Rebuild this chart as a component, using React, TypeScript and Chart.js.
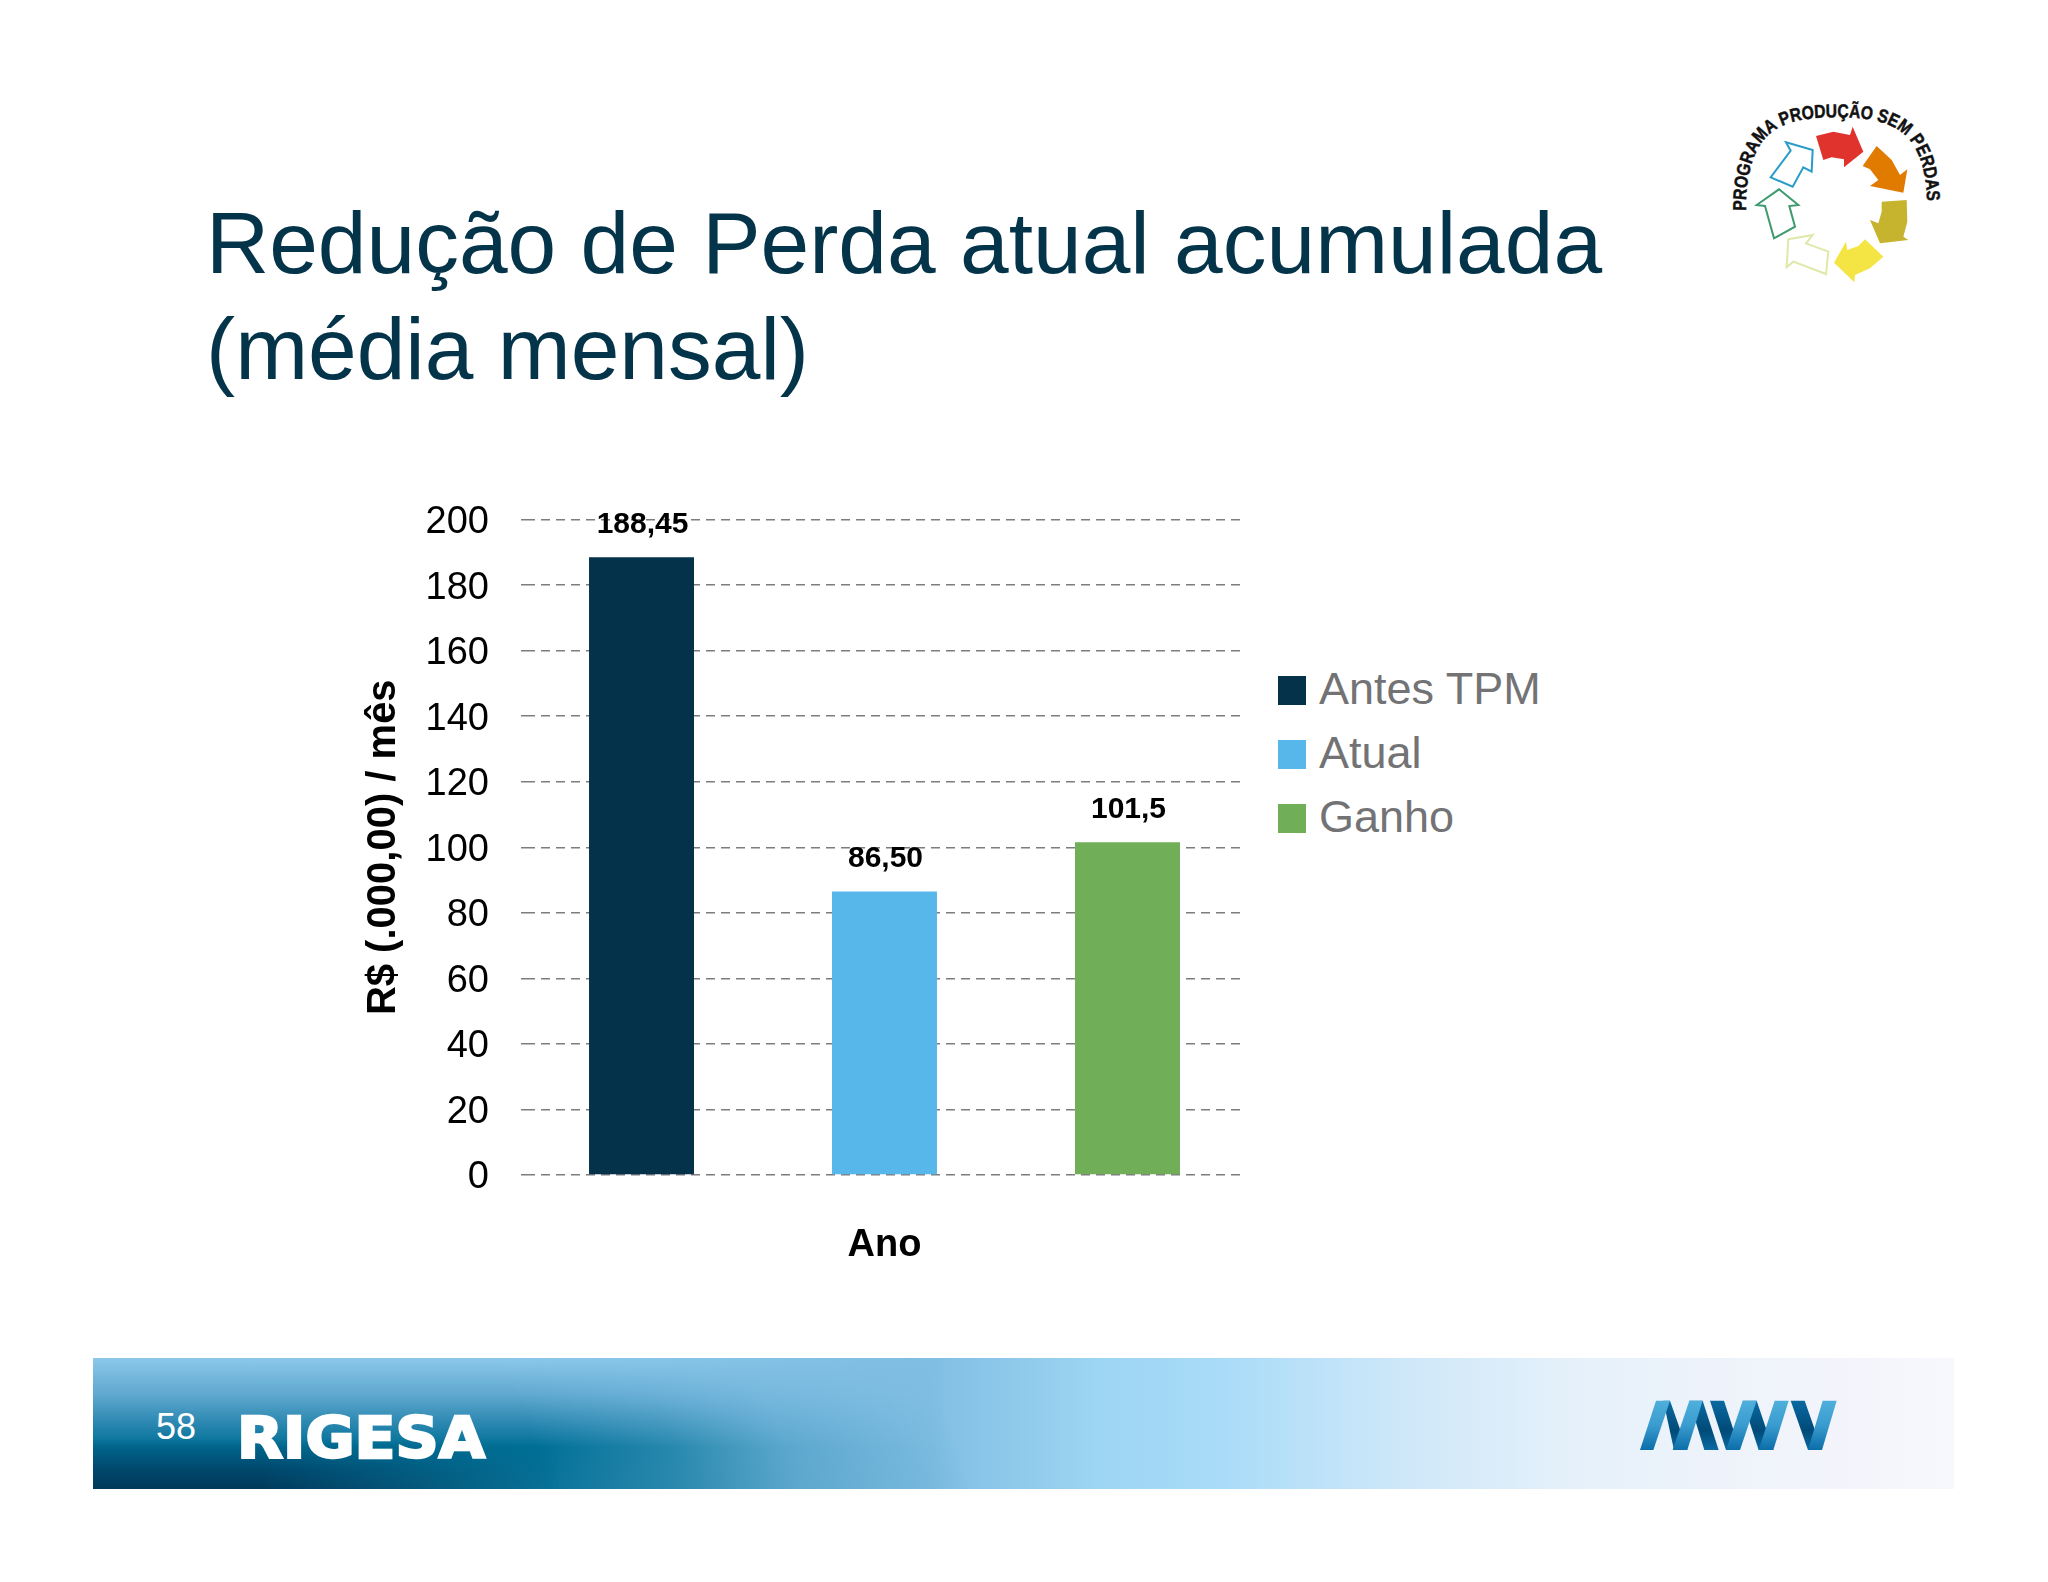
import { useEffect, useRef, type CSSProperties } from "react"
import { Chart, type Plugin, registerables } from "chart.js"

Chart.register(...registerables)

const FONT = '"Liberation Sans", Arial, sans-serif'

const categories = [""]
const seriesNames = ["Antes TPM", "Atual", "Ganho"]
const seriesValues = [[188.45], [86.5], [101.5]]
const seriesColors = ["#03324a", "#58b7ea", "#70ae58"]
const valueLabels = ["188,45", "86,50", "101,5"]
const titleLines = ["Redução de Perda atual acumulada", "(média mensal)"]

// draws the number above each bar, the picture has them 24px over the bar top
const valueLabelPlugin: Plugin<"bar"> = {
  id: "valueLabels",
  afterDatasetsDraw(chart) {
    const { ctx } = chart
    ctx.save()
    ctx.font = `bold 30px ${FONT}`
    ctx.fillStyle = "#000"
    ctx.textAlign = "center"
    ctx.textBaseline = "alphabetic"
    chart.data.datasets.forEach((_, i) => {
      const bar = chart.getDatasetMeta(i).data[0]
      ctx.fillText(valueLabels[i], bar.x + 1, bar.y - 24)
    })
    ctx.restore()
  },
}

function BarChart() {
  const chartRef = useRef<HTMLCanvasElement>(null)

  useEffect(() => {
    if (!chartRef.current) return

    const chart = new Chart(chartRef.current, {
      type: "bar",
      data: {
        labels: categories,
        datasets: seriesNames.map((name, i) => ({
          label: name,
          data: seriesValues[i],
          backgroundColor: seriesColors[i],
          categoryPercentage: 1.0167,
          barPercentage: 0.432,
        })),
      },
      options: {
        responsive: false,
        animation: false,
        layout: { autoPadding: false, padding: { top: 39.5 } },
        plugins: {
          legend: { display: false },
          tooltip: { enabled: false },
        },
        scales: {
          x: {
            grid: { display: false, drawTicks: false },
            border: { display: false },
            ticks: { display: false },
            title: {
              display: true,
              text: "Ano",
              color: "#000",
              font: { family: FONT, size: 38, weight: "bold" },
              padding: { top: 47.4, bottom: 0 },
            },
          },
          y: {
            min: 0,
            max: 200,
            // tick padding is counted twice by fit() and added to the top margin too,
            // so width and margins are set by hand
            afterFit: (axis) => {
              axis.width = 186
              axis.paddingTop = 0
              axis.paddingBottom = 0
            },
            grid: {
              color: "#7d7d80",
              lineWidth: 1.5,
              tickLength: 5,
              tickColor: "#7d7d80",
              tickBorderDash: [5, 10],
            },
            border: { display: false, dash: [9, 6] },
            ticks: {
              stepSize: 20,
              color: "#000",
              padding: 32,
              labelOffset: 3,
              font: { family: FONT, size: 38 },
            },
            title: {
              display: true,
              text: "R$ (.000,00) / mês",
              color: "#000",
              font: { family: FONT, size: 40, weight: "bold" },
              padding: { top: 20, bottom: 19 },
            },
          },
        },
      },
      plugins: [valueLabelPlugin],
    })

    return () => chart.destroy()
  }, [])

  return (
    <canvas
      ref={chartRef}
      width={903}
      height={788}
      style={{ position: "absolute", left: 340, top: 480, width: 903, height: 788 }}
    />
  )
}

function Legend() {
  return (
    <>
      {seriesNames.map((name, i) => (
        <div key={name}>
          <div
            style={{
              position: "absolute",
              left: 1278,
              top: 676 + i * 64,
              width: 28,
              height: 29,
              background: seriesColors[i],
            }}
          />
          <div
            style={{
              position: "absolute",
              left: 1319,
              top: 664 + i * 64,
              font: `45px/50px ${FONT}`,
              color: "#737375",
              whiteSpace: "nowrap",
            }}
          >
            {name}
          </div>
        </div>
      ))}
    </>
  )
}

function Title() {
  return (
    <>
      {titleLines.map((line, i) => (
        <div
          key={line}
          style={{
            position: "absolute",
            left: 206,
            top: 193 + i * 105.6,
            font: `87.5px/100px ${FONT}`,
            color: "#04344a",
            whiteSpace: "nowrap",
          }}
        >
          {line}
        </div>
      ))}
    </>
  )
}

const mwvLight = [
  "120,330 160,330 210,182 168,182",
  "218,330 262,330 308,182 268,182",
  "378,330 420,330 470,182 428,182",
  "476,330 520,330 566,182 524,182",
  "624,330 666,330 710,182 668,182",
]
const mwvDark = [
  "190,182 210,182 262,330 222,330",
  "268,182 308,182 356,330 313,330",
  "330,182 372,182 420,330 378,330",
  "428,182 470,182 520,330 476,330",
  "572,182 614,182 666,330 624,330",
]

const tealMask = "linear-gradient(70deg, #000 0, #000 24%, rgba(0,0,0,.7) 31%, rgba(0,0,0,.3) 37%, transparent 46%)"
const darkMask = "linear-gradient(to right, #000 0, #000 9%, transparent 25%)"

function Footer() {
  const band: CSSProperties = { position: "absolute", left: 93, top: 1358, width: 1861, height: 131 }
  return (
    <>
      <div
        style={{
          ...band,
          background:
            "linear-gradient(to right, #88c5e8 0, #80bee3 45%, #9dd5f3 54%, #aadcf8 61%, #cde7f9 70%, #e6f1fa 80%, #f3f4fb 93%, #f7f8fc 100%)",
        }}
      />
      <div
        style={{
          ...band,
          background:
            "linear-gradient(to bottom, #8cc8ea 0, #5fa8cf 28%, #2f8ab3 48%, #006f95 68%, #0a7399 100%)",
          WebkitMaskImage: tealMask,
          maskImage: tealMask,
        }}
      />
      <div
        style={{
          ...band,
          background: "linear-gradient(to bottom, transparent 62%, #00476c 85%, #013a5a 100%)",
          WebkitMaskImage: darkMask,
          maskImage: darkMask,
        }}
      />
      <div
        style={{
          position: "absolute",
          left: 156,
          top: 1406,
          font: `36px/41px ${FONT}`,
          color: "#fff",
        }}
      >
        58
      </div>
      <svg style={{ position: "absolute", left: 230, top: 1405, width: 262, height: 65 }} viewBox="0 0 262 65">
        <text
          x="7"
          y="53"
          textLength="248"
          lengthAdjust="spacingAndGlyphs"
          fontFamily="DejaVu Sans"
          fontWeight="bold"
          fontSize="57"
          fill="#fff"
          stroke="#fff"
          strokeWidth="2.5"
        >
          RIGESA
        </text>
      </svg>
      <svg style={{ position: "absolute", left: 1600, top: 1340, width: 400, height: 180 }} viewBox="0 0 1200 540">
        <defs>
          <linearGradient id="mwvA" x1="0" y1="182" x2="0" y2="330" gradientUnits="userSpaceOnUse">
            <stop offset="0" stopColor="#4fb0dc" />
            <stop offset="0.5" stopColor="#3a9bcf" />
            <stop offset="1" stopColor="#0b6ea8" />
          </linearGradient>
          <linearGradient id="mwvB" x1="0" y1="182" x2="0" y2="330" gradientUnits="userSpaceOnUse">
            <stop offset="0" stopColor="#0a6aa2" />
            <stop offset="0.6" stopColor="#004a78" />
            <stop offset="1" stopColor="#0a6aa2" />
          </linearGradient>
        </defs>
        {mwvDark.map((p) => (
          <polygon key={p} points={p} fill="url(#mwvB)" />
        ))}
        {mwvLight.map((p) => (
          <polygon key={p} points={p} fill="url(#mwvA)" />
        ))}
      </svg>
    </>
  )
}

const filledArrows = [
  { fill: "#e0332e", points: "348,168 400,155 450,165 458,140 490,215 432,262 432,238 395,232 370,240" },
  { fill: "#e07b00", points: "530,198 575,240 600,285 622,268 610,338 510,318 535,300 510,268 488,258" },
  { fill: "#c6b32e", points: "545,365 620,360 622,425 610,470 625,480 540,490 510,420 535,430 545,395" },
  { fill: "#f4e545", points: "495,478 550,530 510,565 465,585 463,607 402,548 438,485 442,510 475,498" },
]
const outlineArrows = [
  { stroke: "#dfe8a8", points: "265,478 338,465 318,490 385,515 378,582 280,545 260,562" },
  { stroke: "#3f9a6e", points: "170,375 237,328 295,375 268,378 285,440 222,475 195,378" },
  { stroke: "#2a9cc8", points: "258,187 338,210 335,275 310,262 278,320 212,292 272,212" },
]

function ProgramLogo() {
  return (
    <svg style={{ position: "absolute", left: 1700, top: 80, width: 280, height: 220 }} viewBox="0 0 840 660">
      <path id="logoArc" d="M 138,392 C 138,150 240,112 410,112 C 580,112 682,150 682,392" fill="none" />
      <text fontFamily="Liberation Sans" fontWeight="bold" fontSize="56" fill="#111" stroke="#111" strokeWidth="1.5">
        <textPath href="#logoArc" textLength="890" lengthAdjust="spacingAndGlyphs">
          PROGRAMA PRODUÇÃO SEM PERDAS
        </textPath>
      </text>
      {filledArrows.map((a) => (
        <polygon key={a.fill} points={a.points} fill={a.fill} />
      ))}
      {outlineArrows.map((a) => (
        <polygon key={a.stroke} points={a.points} fill="#fff" stroke={a.stroke} strokeWidth="6" />
      ))}
    </svg>
  )
}

export default function App() {
  return (
    <div style={{ position: "absolute", left: 0, top: 0, width: 2048, height: 1582, background: "#fff", overflow: "hidden" }}>
      <Title />
      <ProgramLogo />
      <BarChart />
      <Legend />
      <Footer />
    </div>
  )
}
